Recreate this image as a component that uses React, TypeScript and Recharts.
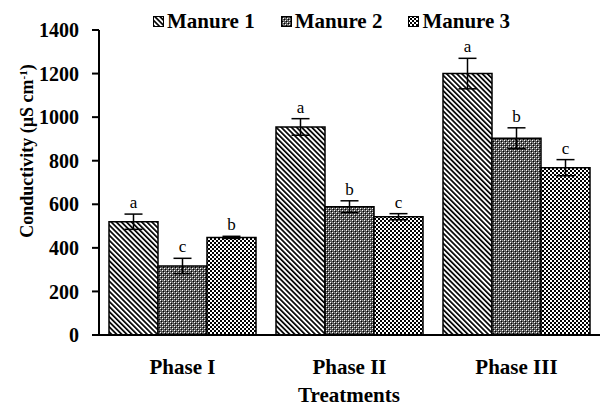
import React from 'react';
import { BarChart, Bar, XAxis, YAxis, ErrorBar, LabelList, Legend } from 'recharts';

const categories = ['Phase I', 'Phase II', 'Phase III'];
const manure1 = [520, 955, 1200];
const manure2 = [317, 589, 903];
const manure3 = [448, 543, 768];
const err1 = [35, 38, 70];
const err2 = [35, 27, 48];
const err3 = [5, 14, 37];
const letters1 = ['a', 'a', 'a'];
const letters2 = ['c', 'b', 'b'];
const letters3 = ['b', 'c', 'c'];
const yTicks = [0, 200, 400, 600, 800, 1000, 1200, 1400];
const seriesNames = ['Manure 1', 'Manure 2', 'Manure 3'];

const data = categories.map((c, i) => ({
  name: c,
  m1: manure1[i],
  m2: manure2[i],
  m3: manure3[i],
  e1: err1[i],
  e2: err2[i],
  e3: err3[i],
}));

const FONT = '"Liberation Serif", "Times New Roman", serif';

const makeLetter = (letters: string[], values: number[], errs: number[]) => (props: any) => {
  const { x, y, width, height, index } = props;
  if (x == null || y == null) return null;
  const pxPerUnit = Number(height) / values[index];
  const errTop = Number(y) - errs[index] * pxPerUnit;
  return (
    <text
      x={Number(x) + Number(width) / 2}
      y={errTop - 6}
      textAnchor="middle"
      fontFamily={FONT}
      fontSize={17}
      fill="#000"
    >
      {letters[index]}
    </text>
  );
};

const patternIds = ['pat1', 'pat2', 'pat3'];

const LegendContent = () => (
  <div style={{ display: 'flex', alignItems: 'center', fontFamily: FONT, fontWeight: 'bold', fontSize: 21, color: '#000', whiteSpace: 'nowrap' }}>
    {seriesNames.map((n, i) => (
      <div key={n} style={{ display: 'flex', alignItems: 'center', marginRight: i < 2 ? 26 : 0 }}>
        <svg width={11} height={11} style={{ marginRight: 3 }}>
          <rect x={0.5} y={0.5} width={10} height={10} fill={`url(#${patternIds[i]})`} stroke="#000" strokeWidth={1} />
        </svg>
        <span>{n}</span>
      </div>
    ))}
  </div>
);

const XTick = (props: any) => {
  const { x, y, payload } = props;
  return (
    <text x={x} y={Number(y) + 31} textAnchor="middle" fontFamily={FONT} fontWeight="bold" fontSize={21} fill="#000">
      {payload.value}
    </text>
  );
};

export default function App() {
  return (
    <div style={{ position: 'absolute', left: 0, top: 0, width: 604, height: 407, background: '#fff' }}>
      <BarChart
        width={604}
        height={407}
        data={data}
        margin={{ top: 30, right: 4, left: 0, bottom: 30 }}
        barCategoryGap={10}
        barGap={0}
      >
        <defs>
          <pattern id="pat1" width={3.6} height={3.6} patternUnits="userSpaceOnUse" patternTransform="rotate(-45)">
            <rect width={3.6} height={3.6} fill="#fff" />
            <rect x={0} y={0} width={1.7} height={3.6} fill="#000" />
          </pattern>
          <pattern id="pat2" width={4} height={4} patternUnits="userSpaceOnUse">
            <rect width={4} height={4} fill="#555" />
            <rect x={0} y={0} width={1} height={1} fill="#fff" />
            <rect x={2} y={2} width={1} height={1} fill="#fff" />
            <rect x={1} y={1} width={1} height={1} fill="#000" />
            <rect x={3} y={3} width={1} height={1} fill="#000" />
            <rect x={2} y={0} width={1} height={1} fill="#999" />
            <rect x={0} y={2} width={1} height={1} fill="#999" />
          </pattern>
          <pattern id="pat3" width={4} height={4} patternUnits="userSpaceOnUse">
            <rect width={4} height={4} fill="#fff" />
            <rect x={0} y={0} width={2} height={2} fill="#000" />
            <rect x={2} y={2} width={2} height={2} fill="#000" />
          </pattern>
        </defs>
        <XAxis
          dataKey="name"
          height={42}
          tickLine={false}
          axisLine={{ stroke: '#000', strokeWidth: 2 }}
          tick={<XTick />}
          interval={0}
        />
        <YAxis
          width={99}
          domain={[0, 1400]}
          ticks={yTicks}
          interval={0}
          tickSize={7}
          tickMargin={13}
          axisLine={{ stroke: '#000', strokeWidth: 2 }}
          tickLine={{ stroke: '#000', strokeWidth: 2 }}
          tick={{ fill: '#000', fontFamily: FONT, fontWeight: 'bold', fontSize: 20 }}
        />
        <Legend
          layout="horizontal"
          verticalAlign="middle"
          align="center"
          content={<LegendContent />}
          wrapperStyle={{ top: 9, left: 153, width: 'auto' }}
        />
        <Bar dataKey="m1" name="Manure 1" fill="url(#pat1)" stroke="#000" strokeWidth={1.5} isAnimationActive={false}>
          <ErrorBar dataKey="e1" width={9} strokeWidth={1.5} stroke="#000" direction="y" />
          <LabelList content={makeLetter(letters1, manure1, err1)} />
        </Bar>
        <Bar dataKey="m2" name="Manure 2" fill="url(#pat2)" stroke="#000" strokeWidth={1.5} isAnimationActive={false}>
          <ErrorBar dataKey="e2" width={9} strokeWidth={1.5} stroke="#000" direction="y" />
          <LabelList content={makeLetter(letters2, manure2, err2)} />
        </Bar>
        <Bar dataKey="m3" name="Manure 3" fill="url(#pat3)" stroke="#000" strokeWidth={1.5} isAnimationActive={false}>
          <ErrorBar dataKey="e3" width={9} strokeWidth={1.5} stroke="#000" direction="y" />
          <LabelList content={makeLetter(letters3, manure3, err3)} />
        </Bar>
        <text x={349} y={402} textAnchor="middle" fontFamily={FONT} fontWeight="bold" fontSize={21} fill="#000">
          Treatments
        </text>
        <text
          x={33}
          y={151}
          transform="rotate(-90, 33, 151)"
          textAnchor="middle"
          fontFamily={FONT}
          fontWeight="bold"
          fontSize={18}
          fill="#000"
        >
          Conductivity (µS cm
          <tspan baselineShift="super" fontSize={11}>-1</tspan>
          <tspan>)</tspan>
        </text>
      </BarChart>
    </div>
  );
}
